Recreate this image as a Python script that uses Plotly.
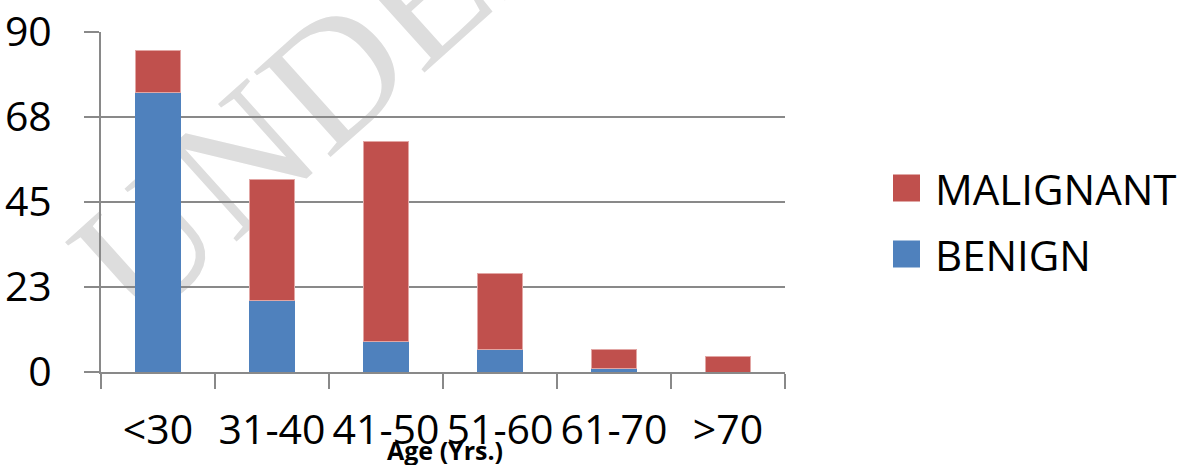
import plotly.graph_objects as go

# Age groups and patient counts per diagnosis
age_groups = ["<30", "31-40", "41-50", "51-60", "61-70", ">70"]
benign = [74, 19, 8, 6, 1, 0]
malignant = [11, 32, 53, 20, 5, 4]

# Value axis ticks (quarter steps of 90, labelled rounded)
y_tick_vals = [0, 22.5, 45, 67.5, 90]
y_tick_text = ["0", "23", "45", "68", "90"]

BLUE = "#4F81BD"
RED = "#C0504D"
GRID = "#898989"
FONT = "Open Sans"

W, H = 1183, 465
L, R, T, B = 101, 398, 32, 93
PW, PH = W - L - R, H - T - B


def px_x(px):
    return (px - L) / PW


def px_y(py):
    return (H - B - py) / PH


fig = go.Figure()
fig.add_trace(go.Bar(x=age_groups, y=benign, name="BENIGN",
                     marker=dict(color=BLUE, line=dict(width=0)),
                     showlegend=False))
fig.add_trace(go.Bar(x=age_groups, y=malignant, name="MALIGNANT",
                     marker=dict(color=RED, line=dict(width=1, color="#E2A6A4")),
                     showlegend=False))

# legend drawn by hand so the swatches can be large squares
legend_items = [("MALIGNANT", RED, 188), ("BENIGN", BLUE, 254)]
shapes = []
annotations = []
for label, color, cy in legend_items:
    shapes.append(dict(type="rect", xref="paper", yref="paper",
                       x0=px_x(893), x1=px_x(920),
                       y0=px_y(cy + 13.5), y1=px_y(cy - 13.5),
                       fillcolor=color, line=dict(width=0)))
    annotations.append(dict(text=label, xref="paper", yref="paper",
                            x=px_x(933), y=px_y(cy), xanchor="left",
                            yanchor="middle", showarrow=False,
                            font=dict(family=FONT, size=42, color="black")))

# faint diagonal watermark behind the chart
wm_cx, wm_cy = 755, -330
shapes.append(dict(type="rect", xref="paper", yref="paper", layer="below",
                   x0=px_x(wm_cx - 20), x1=px_x(wm_cx + 20),
                   y0=px_y(wm_cy + 20), y1=px_y(wm_cy - 20),
                   fillcolor="rgba(0,0,0,0)", line=dict(width=0),
                   label=dict(text="UNDER PEER REVIEW", textangle=-42,
                              textposition="middle center",
                              font=dict(family="Liberation Serif", size=175,
                                        color="#DDDDDD"))))

annotations.append(dict(text="<b>Age (Yrs.)</b>", xref="paper", yref="paper",
                        x=px_x(445), y=px_y(450), xanchor="center",
                        yanchor="middle", showarrow=False,
                        font=dict(family=FONT, size=25, color="black")))

fig.update_layout(
    width=W, height=H, autosize=False,
    margin=dict(l=L, r=R, t=T, b=B, pad=0),
    barmode="stack", bargap=0.6,
    paper_bgcolor="white", plot_bgcolor="rgba(0,0,0,0)",
    showlegend=False,
    shapes=shapes, annotations=annotations,
    xaxis=dict(range=[-0.5, 5.5], showline=True, linecolor=GRID, linewidth=2,
               ticks="outside", tickson="boundaries", ticklen=15,
               tickwidth=2, tickcolor=GRID, tickangle=0, automargin=False,
               tickfont=dict(family=FONT, size=41, color="black"),
               ticklabelstandoff=21, showgrid=False, zeroline=False),
    yaxis=dict(range=[0, 90], tickvals=y_tick_vals, ticktext=y_tick_text,
               showline=True, linecolor=GRID, linewidth=2, automargin=False,
               ticks="outside", ticklen=15, tickwidth=2, tickcolor=GRID,
               showgrid=True, gridcolor=GRID, gridwidth=2, zeroline=False,
               tickfont=dict(family=FONT, size=41, color="black"),
               ticklabelstandoff=24),
)

fig.write_html("out.html")
